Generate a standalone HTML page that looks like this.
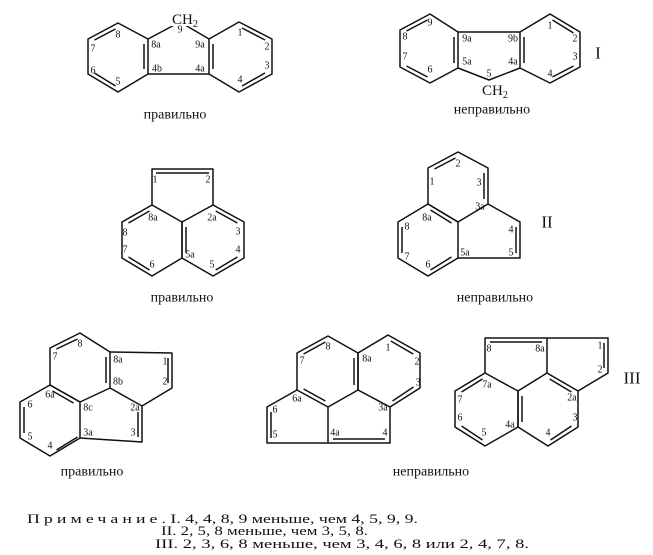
<!DOCTYPE html>
<html><head><meta charset="utf-8"><style>
html,body{margin:0;padding:0;background:#fff;}
svg{display:block}
text{font-family:"Liberation Serif",serif;fill:#111;}
.n{font-size:10px;text-anchor:middle;dominant-baseline:central;}
.c{font-size:14px;text-anchor:middle;dominant-baseline:central;}
.r{font-size:17px;text-anchor:middle;dominant-baseline:central;}
.t{font-family:"Liberation Serif",serif;font-size:13px;}
</style></head><body>
<svg width="653" height="555" viewBox="0 0 653 555" xmlns="http://www.w3.org/2000/svg">
<g stroke="#111" stroke-width="1.5" fill="none" stroke-linejoin="round">
<!-- S1 -->
<polygon points="118,23 148,39 148,74 118,92 88,74 88,39"/>
<polygon points="239,22 272,39 272,74 239,92 209,74 209,39"/>
<polyline points="148,39 180,22 209,39"/>
<line x1="148" y1="74" x2="209" y2="74"/>
<line x1="144" y1="44" x2="144" y2="69"/>
<line x1="94.5" y1="40" x2="115.5" y2="29"/>
<line x1="94.5" y1="73" x2="115.5" y2="86"/>
<line x1="213" y1="44" x2="213" y2="69"/>
<line x1="242" y1="28" x2="265" y2="40"/>
<line x1="265" y1="73" x2="242" y2="86"/>
<!-- S2 -->
<polygon points="430,14 458,32 458,68 430,83 400,67 400,30"/>
<polygon points="550,14 580,32 580,67 550,83 520,68 520,32"/>
<line x1="458" y1="32" x2="520" y2="32"/>
<polyline points="458,68 489,80 520,68"/>
<line x1="454" y1="37" x2="454" y2="63"/>
<line x1="406.5" y1="31" x2="427.5" y2="20"/>
<line x1="406.5" y1="66" x2="427.5" y2="77"/>
<line x1="524" y1="37" x2="524" y2="63"/>
<line x1="552.5" y1="20" x2="573.5" y2="33"/>
<line x1="573.5" y1="66" x2="552.5" y2="77"/>
<!-- S3 -->
<polygon points="152,205 182,222 182,258 152,276 122,258 122,222"/>
<polygon points="182,222 213,205 244,222 244,258 213,276 182,258"/>
<polyline points="152,205 152,169 213,169 213,205"/>
<line x1="156" y1="173" x2="209" y2="173"/>
<line x1="149.5" y1="211" x2="128.5" y2="223"/>
<line x1="128.5" y1="257" x2="149.5" y2="270"/>
<line x1="186" y1="227" x2="186" y2="253"/>
<line x1="215.7" y1="211" x2="237.4" y2="223"/>
<line x1="237.4" y1="257" x2="215.7" y2="270"/>
<!-- S4 -->
<polygon points="428,168 458,152 488,168 488,204 458,222 428,204"/>
<polygon points="428,204 458,222 458,258 428,276 398,258 398,222"/>
<polyline points="488,204 520,222 520,258 458,258"/>
<line x1="434.5" y1="169" x2="455.5" y2="158"/>
<line x1="484" y1="173" x2="484" y2="199"/>
<line x1="430.5" y1="210" x2="451.5" y2="223"/>
<line x1="402" y1="227" x2="402" y2="253"/>
<line x1="430.5" y1="270" x2="451.5" y2="257"/>
<line x1="516" y1="227" x2="516" y2="253"/>
<!-- S5 -->
<polygon points="80,333 110,352 110,388 80,402 50,385 50,348"/>
<polygon points="50,385 80,402 80,438 50,456 20,438 20,402"/>
<polyline points="110,352 172,353 172,388 142,406 110,388"/>
<polyline points="142,406 142,442 80,438"/>
<line x1="56.5" y1="349" x2="77.5" y2="339"/>
<line x1="106" y1="357" x2="106" y2="383"/>
<line x1="52.5" y1="391" x2="73.5" y2="403"/>
<line x1="24" y1="407" x2="24" y2="433"/>
<line x1="56.5" y1="450" x2="77.5" y2="437"/>
<line x1="168" y1="358" x2="168" y2="383"/>
<line x1="138" y1="412" x2="138" y2="437"/>
<!-- S6 -->
<polygon points="328,336 358,353 358,390 328,407 297,390 297,353"/>
<polygon points="388,335 420,353 420,388 390,407 358,390 358,353"/>
<polyline points="297,390 267,407 267,443 390,443 390,407"/>
<line x1="328" y1="407" x2="328" y2="443"/>
<line x1="303.6" y1="354" x2="325.4" y2="342"/>
<line x1="354" y1="358" x2="354" y2="385"/>
<line x1="303.6" y1="389" x2="325.4" y2="401"/>
<line x1="390.8" y1="341" x2="413.2" y2="354"/>
<line x1="413.5" y1="387" x2="392.5" y2="401"/>
<line x1="271" y1="412" x2="271" y2="438"/>
<line x1="333" y1="439" x2="385" y2="439"/>
<!-- S7 -->
<polygon points="485,373 518,391 518,427 485,446 455,427 455,391"/>
<polygon points="547,373 578,391 578,427 548,446 518,427 518,391"/>
<polyline points="485,373 485,338 608,338 608,373 578,391"/>
<line x1="547" y1="338" x2="547" y2="373"/>
<line x1="461.5" y1="392" x2="482.5" y2="379"/>
<line x1="461.5" y1="426" x2="482.5" y2="440"/>
<line x1="522" y1="396" x2="522" y2="422"/>
<line x1="549.7" y1="379" x2="571.4" y2="392"/>
<line x1="571.5" y1="426" x2="550.5" y2="440"/>
<line x1="490" y1="342" x2="542" y2="342"/>
<line x1="604" y1="343" x2="604" y2="368"/>
</g>
<rect x="170" y="8" width="38" height="18" fill="#fff"/>
<rect x="481" y="82" width="30" height="16" fill="#fff"/>
<text x="172" y="24" style="font-size:15px">CH<tspan style="font-size:10px" dy="3">2</tspan></text>
<text x="482" y="95" style="font-size:15px">CH<tspan style="font-size:10px" dy="3">2</tspan></text>
<!-- S1 labels -->
<text class="n" x="180" y="30">9</text><text class="n" x="118" y="35">8</text><text class="n" x="93" y="49">7</text><text class="n" x="93" y="71">6</text><text class="n" x="118" y="82">5</text><text class="n" x="156" y="45">8a</text><text class="n" x="157" y="69">4b</text><text class="n" x="200" y="45">9a</text><text class="n" x="200" y="69">4a</text><text class="n" x="240" y="33">1</text><text class="n" x="267" y="47">2</text><text class="n" x="267" y="66">3</text><text class="n" x="240" y="80">4</text>
<!-- S2 labels -->
<text class="n" x="430" y="23">9</text><text class="n" x="405" y="37">8</text><text class="n" x="405" y="57">7</text><text class="n" x="430" y="70">6</text><text class="n" x="467" y="39">9a</text><text class="n" x="467" y="62">5a</text><text class="n" x="513" y="39">9b</text><text class="n" x="513" y="62">4a</text><text class="n" x="550" y="26">1</text><text class="n" x="575" y="39">2</text><text class="n" x="575" y="57">3</text><text class="n" x="550" y="74">4</text><text class="n" x="489" y="74">5</text>
<!-- S3 labels -->
<text class="n" x="155" y="180">1</text><text class="n" x="208" y="180">2</text><text class="n" x="153" y="218">8a</text><text class="n" x="212" y="218">2a</text><text class="n" x="125" y="233">8</text><text class="n" x="125" y="250">7</text><text class="n" x="152" y="265">6</text><text class="n" x="190" y="255">5a</text><text class="n" x="212" y="265">5</text><text class="n" x="238" y="232">3</text><text class="n" x="238" y="250">4</text>
<!-- S4 labels -->
<text class="n" x="432" y="182">1</text><text class="n" x="458" y="164">2</text><text class="n" x="479" y="183">3</text><text class="n" x="480" y="207">3a</text><text class="n" x="427" y="218">8a</text><text class="n" x="407" y="227">8</text><text class="n" x="407" y="257">7</text><text class="n" x="428" y="265">6</text><text class="n" x="465" y="253">5a</text><text class="n" x="511" y="230">4</text><text class="n" x="511" y="253">5</text>
<!-- S5 labels -->
<text class="n" x="80" y="344">8</text><text class="n" x="55" y="357">7</text><text class="n" x="118" y="360">8a</text><text class="n" x="118" y="382">8b</text><text class="n" x="50" y="395">6a</text><text class="n" x="88" y="408">8c</text><text class="n" x="165" y="362">1</text><text class="n" x="165" y="382">2</text><text class="n" x="135" y="408">2a</text><text class="n" x="30" y="405">6</text><text class="n" x="30" y="437">5</text><text class="n" x="50" y="446">4</text><text class="n" x="88" y="433">3a</text><text class="n" x="133" y="433">3</text>
<!-- S6 labels -->
<text class="n" x="328" y="347">8</text><text class="n" x="302" y="361">7</text><text class="n" x="367" y="359">8a</text><text class="n" x="388" y="348">1</text><text class="n" x="417" y="362">2</text><text class="n" x="418" y="383">3</text><text class="n" x="297" y="399">6a</text><text class="n" x="383" y="408">3a</text><text class="n" x="275" y="410">6</text><text class="n" x="275" y="435">5</text><text class="n" x="335" y="433">4a</text><text class="n" x="385" y="433">4</text>
<!-- S7 labels -->
<text class="n" x="489" y="349">8</text><text class="n" x="540" y="349">8a</text><text class="n" x="600" y="346">1</text><text class="n" x="600" y="370">2</text><text class="n" x="487" y="385">7a</text><text class="n" x="572" y="398">2a</text><text class="n" x="575" y="418">3</text><text class="n" x="510" y="425">4a</text><text class="n" x="548" y="433">4</text><text class="n" x="484" y="433">5</text><text class="n" x="460" y="400">7</text><text class="n" x="460" y="418">6</text>
<text class="r" x="598" y="53">I</text><text class="r" x="547" y="222">II</text><text class="r" x="632" y="378">III</text>
<text class="c" x="175" y="115">правильно</text>
<text class="c" x="492" y="110">неправильно</text>
<text class="c" x="182" y="298">правильно</text>
<text class="c" x="495" y="298">неправильно</text>
<text class="c" x="92" y="472">правильно</text>
<text class="c" x="431" y="472">неправильно</text>
<text class="t" x="27" y="523" textLength="391" lengthAdjust="spacingAndGlyphs"><tspan letter-spacing="3">Примечание</tspan>. I. 4, 4, 8, 9 меньше, чем 4, 5, 9, 9.</text>
<text class="t" x="161" y="535" textLength="207" lengthAdjust="spacingAndGlyphs">II. 2, 5, 8 меньше, чем 3, 5, 8.</text>
<text class="t" x="155" y="548" textLength="374" lengthAdjust="spacingAndGlyphs">III. 2, 3, 6, 8 меньше, чем 3, 4, 6, 8 или 2, 4, 7, 8.</text>
</svg>
</body></html>
